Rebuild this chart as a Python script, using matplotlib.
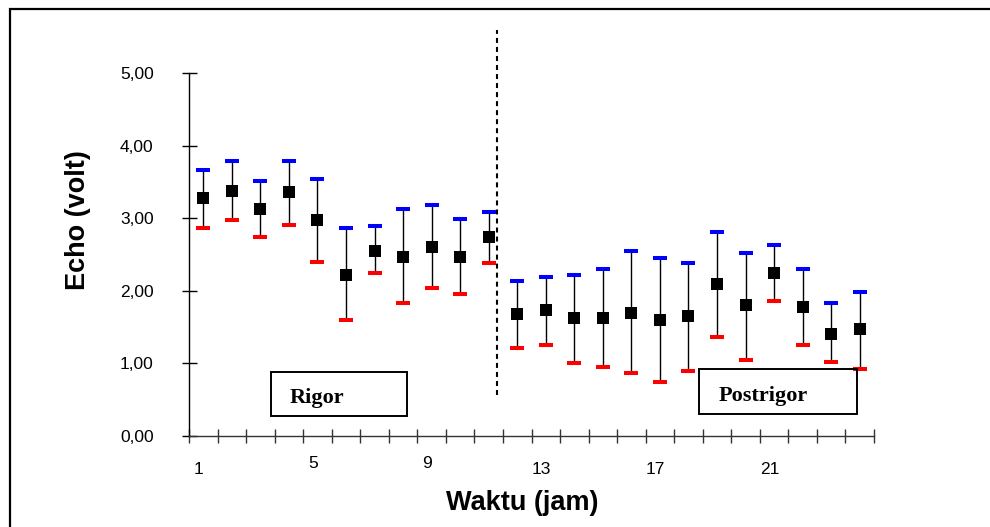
import matplotlib
matplotlib.use("Agg")
import matplotlib.pyplot as plt
from matplotlib.patches import Rectangle

plt.rcParams['font.family'] = ['Liberation Sans', 'DejaVu Sans']
plt.rcParams['lines.scale_dashes'] = False

# jam ke-1 .. ke-24
jam = list(range(1, 25))
# rata-rata echo (volt)
echo_mean = [3.28, 3.38, 3.13, 3.36, 2.97, 2.22, 2.55, 2.47, 2.61, 2.47, 2.74,
             1.68, 1.73, 1.62, 1.62, 1.70, 1.60, 1.65, 2.09, 1.80, 2.24, 1.78, 1.41, 1.47]
# batas atas / bawah
echo_upper = [3.67, 3.79, 3.51, 3.79, 3.54, 2.86, 2.89, 3.13, 3.18, 2.99, 3.08,
              2.14, 2.19, 2.22, 2.30, 2.55, 2.45, 2.38, 2.81, 2.52, 2.63, 2.30, 1.83, 1.99]
echo_lower = [2.86, 2.97, 2.74, 2.91, 2.40, 1.60, 2.25, 1.83, 2.04, 1.96, 2.38,
              1.21, 1.26, 1.00, 0.95, 0.87, 0.74, 0.90, 1.36, 1.05, 1.86, 1.26, 1.02, 0.92]

yticks = [0, 1, 2, 3, 4, 5]
xtick_labels = [1, 5, 9, 13, 17, 21]
batas_rigor = 11.3   # garis putus-putus antara rigor dan postrigor

W, H = 990, 527
fig = plt.figure(figsize=(W / 100, H / 100), dpi=100)
ax = fig.add_axes([189 / W, 1 - 436 / H, (874 - 189) / W, (436 - 73) / H])

# bingkai luar
fig.patches.append(Rectangle((10 / W, -0.2), 1.2, 1.2 - 9 / H + 0.0, transform=fig.transFigure,
                             fill=False, edgecolor='black', linewidth=1.6, clip_on=False))

# error bar
ax.vlines(jam, echo_lower, echo_upper, color='black', linewidth=1.0, zorder=2)
ax.plot(jam, echo_upper, linestyle='none', marker='_', markersize=9.6,
        markeredgewidth=2.9, color='#0000ff', zorder=3)
ax.plot(jam, echo_lower, linestyle='none', marker='_', markersize=9.6,
        markeredgewidth=2.9, color='#ff0000', zorder=3)
ax.plot(jam, echo_mean, linestyle='none', marker='s', markersize=8.4,
        markeredgewidth=0, color='black', zorder=4)

# garis pemisah
ax.plot([batas_rigor, batas_rigor], [0.565, 5.59], color='black', linewidth=1.5,
        dashes=(3.6, 2.9), clip_on=False, zorder=5)

ax.set_xlim(0.5, 24.5)
ax.set_ylim(0, 5)
for s in ['top', 'right']:
    ax.spines[s].set_visible(False)
ax.spines['left'].set_linewidth(1.0)
ax.spines['bottom'].set_linewidth(1.0)
ax.spines['bottom'].set_color('#333333')

ax.set_yticks(yticks)
ax.set_yticklabels([f"{v:.2f}".replace('.', ',') for v in yticks], fontsize=12.5)
ax.tick_params(axis='y', direction='inout', length=10.8, width=1.0, pad=20)
ax.set_xticks([i + 0.5 for i in range(0, 25)])
ax.set_xticklabels([])
ax.tick_params(axis='x', direction='inout', length=10, width=1.0, color='#333333')

tr = ax.get_xaxis_transform()
for lab in xtick_labels:
    off = -27 / 363 if lab in (5, 9) else -34 / 363
    ax.text(lab - 0.15, off, str(lab), transform=tr, ha='center', va='center',
            fontsize=12.5)

fig.text(522 / W, 1 - 503 / H, 'Waktu (jam)', ha='center', va='center',
         fontsize=19.5, fontweight='bold')
fig.text(78 / W, 1 - 220 / H, 'Echo (volt)', ha='center', va='center',
         rotation=90, fontsize=19.5, fontweight='bold')

# kotak keterangan
for (x0, x1, y0, y1, tx, ty, label) in [
        (271, 407, 372, 416, 290, 402.7, 'Rigor'),
        (699, 857, 369, 414, 719, 400.7, 'Postrigor')]:
    ax.add_patch(Rectangle(((x0 - 189) / 685, (436 - y1) / 363),
                           (x1 - x0) / 685, (y1 - y0) / 363,
                           transform=ax.transAxes, fill=False,
                           edgecolor='black', linewidth=1.4, zorder=6))
    ax.text((tx - 189) / 685, (436 - ty) / 363, label, transform=ax.transAxes,
            ha='left', va='baseline', fontsize=16, fontweight='bold',
            family=['Liberation Serif', 'DejaVu Serif'], zorder=6)

fig.savefig('out.png', dpi=100)
